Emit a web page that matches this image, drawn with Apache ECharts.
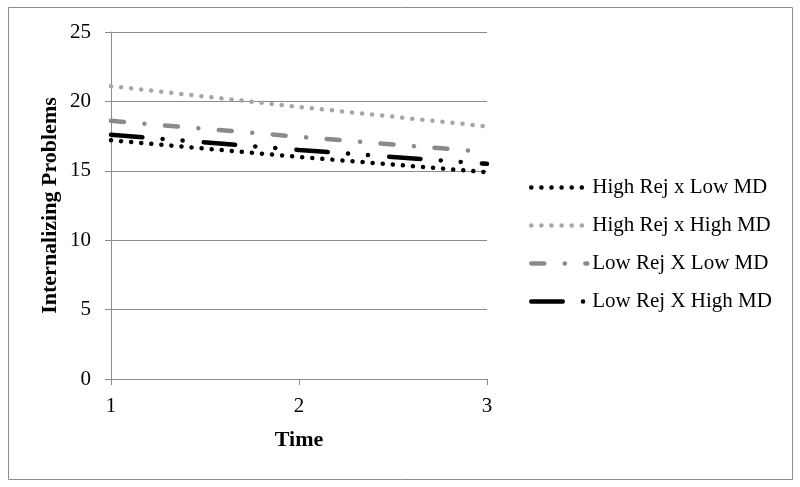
<!DOCTYPE html>
<html><head><meta charset="utf-8">
<script src="https://cdn.jsdelivr.net/npm/echarts@6/dist/echarts.min.js"></script>
<style>html,body{margin:0;padding:0;background:#fff}#c{width:800px;height:487px}</style>
</head><body><div id="c"></div>
<script>
const categories = ['1','2','3'];
const seriesNames = ['High Rej x Low MD','High Rej x High MD','Low Rej X Low MD','Low Rej X High MD'];
const highRejLowMD = [17.2, 16.0, 14.9];
const highRejHighMD = [21.1, 19.6, 18.2];
const lowRejLowMD = [18.6, 17.45, 16.35];
const lowRejHighMD = [17.6, 16.5, 15.5];
const yTicks = {min: 0, max: 25, interval: 5};

const font = '"Liberation Serif", "DejaVu Serif", serif';
const gridColor = '#8c8c8c';
const chart = echarts.init(document.getElementById('c'), null, {renderer: 'canvas'});
const mk = (name, data, color, width, dash) => ({
  name, type: 'line', data, symbol: 'none', smooth: false,
  lineStyle: {color, width, type: dash, cap: 'round'},
  itemStyle: {color}
});
chart.setOption({
  animation: false,
  graphic: [{type: 'rect', shape: {x: 8.5, y: 7.5, width: 784, height: 472},
    style: {fill: 'none', stroke: '#8c8c8c', lineWidth: 1}}],
  grid: {left: 111, top: 32, width: 376, height: 347, containLabel: false},
  xAxis: {
    type: 'category', data: categories, boundaryGap: false,
    name: 'Time', nameLocation: 'middle', nameGap: 50,
    nameTextStyle: {fontFamily: font, fontWeight: 'bold', fontSize: 22, color: '#000'},
    axisLine: {lineStyle: {color: gridColor}},
    axisTick: {show: true, length: 6, lineStyle: {color: gridColor}, alignWithLabel: true},
    axisLabel: {fontFamily: font, fontSize: 21, color: '#000', margin: 17}
  },
  yAxis: {
    type: 'value', min: yTicks.min, max: yTicks.max, interval: yTicks.interval,
    name: 'Internalizing Problems', nameLocation: 'middle', nameGap: 50, nameRotate: 90,
    nameTextStyle: {fontFamily: font, fontWeight: 'bold', fontSize: 22, color: '#000'},
    axisLine: {show: true, lineStyle: {color: gridColor}},
    axisTick: {show: true, length: 6, lineStyle: {color: gridColor}},
    splitLine: {lineStyle: {color: gridColor}},
    axisLabel: {fontFamily: font, fontSize: 21, color: '#000', margin: 20}
  },
  legend: {
    orient: 'vertical', left: 524, top: 172, itemGap: 17, itemWidth: 56, itemHeight: 14,
    data: seriesNames,
    itemStyle: {opacity: 0},
    lineStyle: {width: 4.5, cap: 'round'},
    textStyle: {fontFamily: font, fontSize: 21, color: '#000'}
  },
  series: [
    mk(seriesNames[0], highRejLowMD, '#000000', 4.5, [0.1, 10]),
    mk(seriesNames[1], highRejHighMD, '#a6a6a6', 4.5, [0.1, 10]),
    mk(seriesNames[2], lowRejLowMD, '#8a8a8a', 4.5, [13, 20.5, 0.1, 20.5]),
    mk(seriesNames[3], lowRejHighMD, '#000000', 4.5, [31.5, 20.25, 0.1, 19.9, 0.1, 21.15])
  ]
});
</script></body></html>
